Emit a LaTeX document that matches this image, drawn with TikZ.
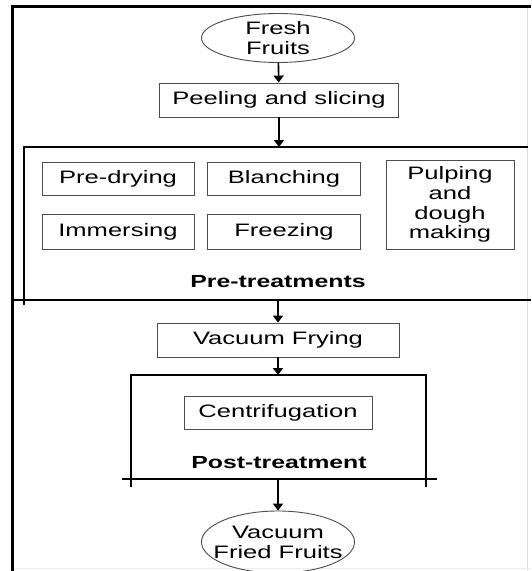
\documentclass[tikz,border=0pt]{standalone}
\usepackage{fontspec}
\setmainfont{Liberation Sans}[FakeStretch=1.42]
\usetikzlibrary{shapes.geometric,arrows.meta,calc}

\tikzset{
  stepbox/.style={draw=black!70, line width=0.9pt, inner sep=0pt, align=center,
    font=\fontsize{18}{19.8}\selectfont},
  endshape/.style={ellipse, draw=black!70, line width=0.9pt, align=center,
    inner xsep=-20pt, inner ysep=-5pt, font=\fontsize{18}{20}\selectfont},
  grouptitle/.style={anchor=base, font=\fontsize{17.5}{20}\selectfont\bfseries},
  flow/.style={-{Triangle[length=7pt,width=10pt]}, line width=1.6pt},
  frame/.style={line width=1.1pt}
}

\begin{document}
\begin{tikzpicture}[x=1pt,y=-1pt]
\clip (0,0) rectangle (531,571);
\fill[white] (0,0) rectangle (531,571);
% outer frame
\draw[gray!25, line width=0.8pt] (527,6) -- (527,571);
\draw[gray!15, line width=0.8pt] (13,568) -- (531,568);
\draw[line width=3.2pt] (12.8,571) -- (12.8,6.5) -- (531,6.5);

% start and first step
\node[endshape, minimum width=153pt, minimum height=49pt] (fresh) at (278,38) {Fresh\\Fruits};
\node[stepbox, minimum width=239pt, minimum height=34pt] (peel) at (279,100) {Peeling and slicing};

% pre-treatments group
\coordinate (preNW) at (24,147);
\coordinate (preS) at (278,300);
\draw[frame] (24,305) -- (preNW) -- (528,147);
\draw[frame] (13,300) -- (531,300);
\node[stepbox, minimum width=152pt, minimum height=33pt] (dry) at (118,178.5) {Pre-drying};
\node[stepbox, minimum width=153pt, minimum height=33pt] (blanch) at (284,178.5) {Blanching};
\node[stepbox, minimum width=152pt, minimum height=35pt] (immerse) at (118,231.5) {Immersing};
\node[stepbox, minimum width=153pt, minimum height=35pt] (freeze) at (284,231.5) {Freezing};
\node[stepbox, minimum width=128pt, minimum height=89pt] (pulp) at (450,204.5) {Pulping\\and\\dough\\making};
\node[grouptitle] (pretitle) at (278,287) {Pre-treatments};

% frying
\node[stepbox, minimum width=242pt, minimum height=34pt] (fry) at (278,340) {Vacuum Frying};

% post-treatment group
\coordinate (postN) at (278,375);
\coordinate (postS) at (278,479);
\draw[frame] (131,487) -- (131,375) -- (426,375) -- (426,487);
\draw[frame] (122,479) -- (437,479);
\node[stepbox, minimum width=188pt, minimum height=33pt] (centri) at (278,412.5) {Centrifugation};
\node[grouptitle] (posttitle) at (279,468.5) {Post-treatment};

% end
\node[endshape, minimum width=153pt, minimum height=62pt] (fried) at (278,542) {Vacuum\\Fried Fruits};

% connectors
\draw[flow] (fresh) -- (peel);
\draw[flow] (peel.south) -- (peel.south |- preNW);
\draw[flow] (preS) -- (fry);
\draw[flow] (fry) -- (postN);
\draw[flow] (postS) -- (fried);
\end{tikzpicture}
\end{document}
